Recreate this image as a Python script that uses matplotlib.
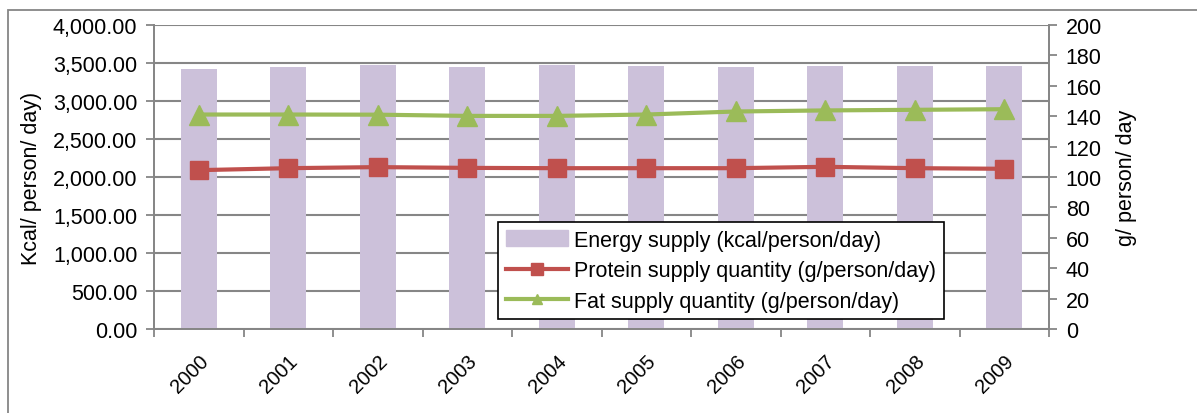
import numpy as np
import matplotlib
matplotlib.use("Agg")
import matplotlib.pyplot as plt
from matplotlib.patches import Rectangle
from matplotlib.lines import Line2D
import matplotlib.transforms as mtransforms

plt.rcParams['font.family'] = ['Liberation Sans', 'DejaVu Sans']

# data
years = ['2000', '2001', '2002', '2003', '2004', '2005', '2006', '2007', '2008', '2009']
energy = [3427, 3453, 3470, 3448, 3470, 3466, 3453, 3457, 3466, 3457]
protein = [104.5, 105.8, 106.5, 106.0, 105.8, 105.8, 105.8, 106.7, 105.8, 105.4]
fat = [141.1, 141.1, 141.0, 140.2, 140.2, 141.1, 143.1, 143.8, 144.2, 144.6]

bar_col = '#CCC1DA'
prot_col = '#C0504D'
fat_col = '#9BBB59'
grid_col = '#868686'
fs = 15.5

fig = plt.figure(figsize=(11.97, 4.14), dpi=100)
# outer chart frame (runs off right and bottom edge)
fig.patches.append(Rectangle((8 / 1197, -0.1), 1.2, 1 - 11 / 414 + 0.1,
                             transform=fig.transFigure, fill=False,
                             edgecolor=grid_col, lw=1.3))

ax = fig.add_axes([154 / 1197, 1 - 330 / 414, (1049 - 154) / 1197, (330 - 26) / 414])
ax2 = ax.twinx()

x = np.arange(len(years))
ax.bar(x, energy, width=0.4, color=bar_col, zorder=2)
ax.set_xlim(-0.5, len(years) - 0.5)
ax.set_ylim(0, 4000)
ax.set_yticks(np.arange(0, 4001, 500))
ax.set_yticklabels([f'{v:,.2f}' for v in np.arange(0, 4001, 500)])
ax.yaxis.grid(True, color=grid_col, lw=1.5, zorder=0)
ax.set_axisbelow(True)

ax.set_xticks(x)
ax.set_xticklabels(years, rotation=45, ha='right', va='top', rotation_mode='anchor')
shift = mtransforms.ScaledTranslation(5 / 100, 0, fig.dpi_scale_trans)
for lab in ax.get_xticklabels():
    lab.set_transform(lab.get_transform() + shift)
ax.set_xticks(np.arange(-0.5, len(years)), minor=True)
ax.tick_params(axis='x', which='major', length=0, pad=16, labelsize=14.5)
ax.tick_params(axis='x', which='minor', length=6, width=1.3, color=grid_col, direction='out')
ax.tick_params(axis='y', length=6, width=1.3, color=grid_col, labelsize=fs, pad=6)
ax.set_ylabel('Kcal/ person/ day)', fontsize=fs, labelpad=8)

ax2.plot(x, protein, color=prot_col, lw=3, marker='s', markersize=13, zorder=3)
ax2.plot(x, fat, color=fat_col, lw=3, marker='^', markersize=14, zorder=3)
ax2.set_ylim(0, 200)
ax2.set_yticks(np.arange(0, 201, 20))
ax2.tick_params(axis='y', length=6, width=1.3, color=grid_col, labelsize=fs, pad=6)
ax2.set_ylabel('g/ person/ day', fontsize=fs, labelpad=10)

for a in (ax, ax2):
    for s in a.spines.values():
        s.set_visible(False)
    for side in ('left', 'right', 'bottom'):
        a.spines[side].set_visible(True)
        a.spines[side].set_color(grid_col)
        a.spines[side].set_linewidth(1.3)

handles = [Rectangle((0, 0), 1, 1, color=bar_col),
           Line2D([], [], color=prot_col, lw=3, marker='s', markersize=8),
           Line2D([], [], color=fat_col, lw=3, marker='^', markersize=7)]
labels = ['Energy supply (kcal/person/day)',
          'Protein supply quantity (g/person/day)',
          'Fat supply quantity (g/person/day)']
leg = ax2.legend(handles, labels, loc='upper left',
                 bbox_to_anchor=((498 - 154) / 895, (330 - 223) / 304),
                 fontsize=15.5, frameon=True, fancybox=False, framealpha=1,
                 edgecolor='black', borderpad=0.35, labelspacing=0.45,
                 handlelength=2.9, handletextpad=0.3, borderaxespad=0)
leg.get_frame().set_linewidth(1.2)

fig.savefig('out.png', dpi=100)
